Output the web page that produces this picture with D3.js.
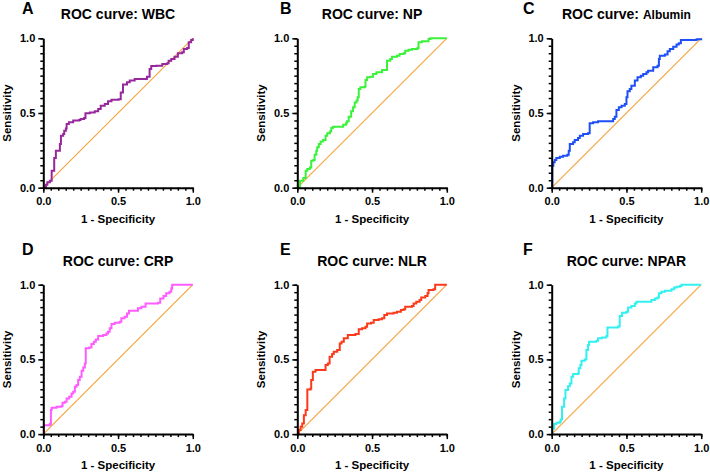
<!DOCTYPE html>
<html>
<head>
<meta charset="utf-8">
<script src="https://cdn.jsdelivr.net/npm/d3@7"></script>
<style>
  body { margin: 0; background: #fff; }
  text { font-family: "Liberation Sans", Arial, sans-serif; font-weight: bold; fill: #000; }
</style>
</head>
<body>
<svg id="chart" width="710" height="476"></svg>
<script>
// tick labels shared by every panel
const tickValues = [0, 0.5, 1];
const tickLabels = ["0.0", "0.5", "1.0"];

// ROC points: 1 - specificity (fpr) and sensitivity (tpr)
const wbcFpr = [0, 0.018, 0.027, 0.044, 0.056, 0.067, 0.073, 0.084, 0.1, 0.111, 0.118, 0.133, 0.14, 0.151, 0.156, 0.171, 0.2, 0.24, 0.249, 0.273, 0.282, 0.311, 0.344, 0.367, 0.384, 0.411, 0.433, 0.456, 0.504, 0.518, 0.533, 0.56, 0.578, 0.611, 0.678, 0.693, 0.711, 0.722, 0.756, 0.796, 0.829, 0.838, 0.856, 0.878, 0.9, 0.929, 0.94, 0.962, 0.973, 0.989, 1];
const wbcTpr = [0, 0.02, 0.036, 0.047, 0.114, 0.114, 0.199, 0.248, 0.248, 0.292, 0.348, 0.359, 0.382, 0.397, 0.426, 0.438, 0.449, 0.453, 0.46, 0.467, 0.498, 0.504, 0.511, 0.527, 0.549, 0.56, 0.578, 0.589, 0.592, 0.638, 0.69, 0.705, 0.717, 0.728, 0.728, 0.743, 0.795, 0.815, 0.817, 0.828, 0.833, 0.85, 0.862, 0.877, 0.9, 0.906, 0.929, 0.935, 0.973, 0.989, 1];

const npFpr = [0, 0.018, 0.033, 0.04, 0.056, 0.067, 0.084, 0.093, 0.107, 0.116, 0.127, 0.133, 0.144, 0.156, 0.173, 0.189, 0.2, 0.218, 0.227, 0.238, 0.278, 0.307, 0.327, 0.333, 0.344, 0.36, 0.373, 0.384, 0.396, 0.404, 0.411, 0.422, 0.449, 0.456, 0.467, 0.489, 0.507, 0.529, 0.567, 0.596, 0.6, 0.622, 0.633, 0.667, 0.684, 0.711, 0.722, 0.744, 0.767, 0.804, 0.811, 0.833, 0.878, 0.889, 1];
const npTpr = [0, 0.047, 0.047, 0.065, 0.114, 0.125, 0.136, 0.181, 0.185, 0.221, 0.248, 0.27, 0.292, 0.31, 0.319, 0.348, 0.364, 0.377, 0.4, 0.408, 0.408, 0.422, 0.435, 0.444, 0.475, 0.511, 0.538, 0.571, 0.583, 0.605, 0.661, 0.672, 0.676, 0.721, 0.739, 0.743, 0.761, 0.772, 0.788, 0.788, 0.85, 0.862, 0.877, 0.884, 0.895, 0.9, 0.917, 0.924, 0.929, 0.935, 0.973, 0.98, 0.996, 1, 1];

const albFpr = [0, 0.004, 0.011, 0.02, 0.031, 0.054, 0.076, 0.105, 0.114, 0.121, 0.143, 0.154, 0.176, 0.188, 0.21, 0.243, 0.254, 0.277, 0.31, 0.388, 0.411, 0.422, 0.433, 0.449, 0.467, 0.489, 0.5, 0.507, 0.522, 0.533, 0.556, 0.574, 0.596, 0.612, 0.634, 0.645, 0.679, 0.708, 0.717, 0.723, 0.757, 0.775, 0.79, 0.813, 0.835, 0.85, 0.864, 0.969, 1];
const albTpr = [0, 0.147, 0.17, 0.185, 0.199, 0.208, 0.214, 0.221, 0.248, 0.292, 0.304, 0.319, 0.333, 0.348, 0.359, 0.364, 0.431, 0.438, 0.444, 0.444, 0.46, 0.475, 0.52, 0.538, 0.549, 0.56, 0.605, 0.645, 0.661, 0.683, 0.717, 0.739, 0.75, 0.761, 0.772, 0.783, 0.806, 0.817, 0.862, 0.884, 0.891, 0.913, 0.929, 0.944, 0.958, 0.967, 0.989, 0.993, 1];

const crpFpr = [0, 0.004, 0.044, 0.051, 0.056, 0.089, 0.122, 0.129, 0.144, 0.156, 0.173, 0.189, 0.2, 0.211, 0.222, 0.233, 0.244, 0.256, 0.267, 0.278, 0.284, 0.307, 0.322, 0.338, 0.351, 0.367, 0.4, 0.422, 0.433, 0.444, 0.456, 0.478, 0.511, 0.522, 0.544, 0.56, 0.573, 0.611, 0.633, 0.656, 0.684, 0.767, 0.782, 0.804, 0.822, 0.844, 0.856, 0.862, 1];
const crpTpr = [0, 0.06, 0.067, 0.161, 0.176, 0.183, 0.188, 0.21, 0.217, 0.239, 0.25, 0.272, 0.283, 0.317, 0.328, 0.362, 0.384, 0.424, 0.446, 0.473, 0.574, 0.58, 0.603, 0.618, 0.634, 0.656, 0.663, 0.674, 0.685, 0.708, 0.737, 0.746, 0.752, 0.775, 0.786, 0.808, 0.826, 0.826, 0.842, 0.853, 0.875, 0.879, 0.908, 0.924, 0.942, 0.953, 0.975, 1, 1];

const nlrFpr = [0, 0.011, 0.022, 0.033, 0.044, 0.056, 0.067, 0.089, 0.093, 0.104, 0.122, 0.182, 0.189, 0.204, 0.216, 0.233, 0.244, 0.267, 0.284, 0.296, 0.311, 0.338, 0.389, 0.411, 0.433, 0.456, 0.467, 0.493, 0.511, 0.544, 0.567, 0.582, 0.6, 0.644, 0.667, 0.693, 0.711, 0.722, 0.767, 0.778, 0.796, 0.818, 0.829, 0.856, 0.871, 0.878, 0.911, 0.922, 1];
const nlrTpr = [0, 0.027, 0.049, 0.071, 0.127, 0.161, 0.299, 0.306, 0.362, 0.417, 0.429, 0.429, 0.462, 0.473, 0.518, 0.536, 0.551, 0.563, 0.607, 0.618, 0.641, 0.663, 0.67, 0.701, 0.708, 0.719, 0.741, 0.746, 0.763, 0.768, 0.775, 0.797, 0.808, 0.813, 0.819, 0.83, 0.835, 0.853, 0.857, 0.875, 0.886, 0.897, 0.915, 0.924, 0.942, 0.964, 0.969, 1, 1];

const nparFpr = [0, 0.004, 0.016, 0.031, 0.054, 0.06, 0.069, 0.083, 0.092, 0.109, 0.121, 0.132, 0.143, 0.176, 0.181, 0.192, 0.199, 0.221, 0.232, 0.243, 0.25, 0.299, 0.31, 0.337, 0.366, 0.373, 0.444, 0.455, 0.471, 0.5, 0.511, 0.533, 0.556, 0.567, 0.645, 0.667, 0.69, 0.708, 0.717, 0.734, 0.757, 0.801, 0.819, 0.835, 0.857, 0.868, 1];
const nparTpr = [0, 0.038, 0.067, 0.076, 0.083, 0.098, 0.183, 0.239, 0.295, 0.321, 0.339, 0.384, 0.402, 0.406, 0.44, 0.462, 0.491, 0.5, 0.563, 0.596, 0.618, 0.625, 0.641, 0.647, 0.656, 0.714, 0.721, 0.79, 0.813, 0.819, 0.848, 0.857, 0.875, 0.886, 0.886, 0.897, 0.908, 0.915, 0.942, 0.953, 0.96, 0.969, 0.982, 0.987, 0.991, 1, 1];

const panelLetters = ["A", "B", "C", "D", "E", "F"];
const markerNames = ["WBC", "NP", "Albumin", "CRP", "NLR", "NPAR"];
const curveColors = ["#97289b", "#3bf23b", "#1e4ef5", "#ff5cff", "#fb3a1c", "#33f0f0"];

const fprSets = [wbcFpr, npFpr, albFpr, crpFpr, nlrFpr, nparFpr];
const tprSets = [wbcTpr, npTpr, albTpr, crpTpr, nlrTpr, nparTpr];

// layout
const colX = [43.3, 297.3, 551.7];
const rowY = [38.3, 284.7];
const plotW = 149.5;
const plotH = 149.4;
const letterX = [22, 280, 523];
const letterY = [14, 254.7];
const titleY = [19, 266];

const svg = d3.select("#chart");

const panels = markerNames.map((name, i) => ({
  name,
  letter: panelLetters[i],
  color: curveColors[i],
  col: i % 3,
  row: Math.floor(i / 3),
  points: fprSets[i].map((f, j) => ({ fpr: f, tpr: tprSets[i][j] })),
}));

panels.forEach((p) => {
  const ox = colX[p.col];
  const oy = rowY[p.row];
  const x = d3.scaleLinear().domain([0, 1]).range([0, plotW]);
  const y = d3.scaleLinear().domain([0, 1]).range([plotH, 0]);

  // panel letter
  svg.append("text")
    .attr("x", letterX[p.col])
    .attr("y", letterY[p.row])
    .attr("font-size", 16)
    .text(p.letter);

  // title: GraphPad rendered the Albumin name slightly smaller
  const title = svg.append("text")
    .attr("x", ox + plotW / 2)
    .attr("y", titleY[p.row])
    .attr("text-anchor", "middle")
    .attr("font-size", 14);
  title.append("tspan").text("ROC curve: ");
  title.append("tspan")
    .attr("font-size", p.name === "Albumin" ? 12 : 14)
    .text(p.name);

  const g = svg.append("g").attr("transform", `translate(${ox},${oy})`);

  // reference diagonal
  g.append("line")
    .attr("x1", x(0)).attr("y1", y(0))
    .attr("x2", x(1)).attr("y2", y(1))
    .attr("stroke", "#f5a742")
    .attr("stroke-width", 1.2);

  // ROC curve
  const line = d3.line()
    .x((d) => x(d.fpr))
    .y((d) => y(d.tpr))
    .curve(d3.curveStepAfter);

  g.append("path")
    .datum(p.points)
    .attr("fill", "none")
    .attr("stroke", p.color)
    .attr("stroke-width", 2)
    .attr("d", line);

  // minor ticks every 0.05
  const minor = d3.range(0, 21).map((k) => k / 20);
  g.append("g")
    .attr("transform", `translate(0,${plotH})`)
    .call(d3.axisBottom(x).tickValues(minor).tickSize(3).tickFormat(""))
    .call((a) => a.select(".domain").remove())
    .call((a) => a.selectAll("line").attr("stroke-width", 1.5));
  g.append("g")
    .call(d3.axisLeft(y).tickValues(minor).tickSize(3).tickFormat(""))
    .call((a) => a.select(".domain").remove())
    .call((a) => a.selectAll("line").attr("stroke-width", 1.5));

  // major axes
  const xAxis = g.append("g")
    .attr("transform", `translate(0,${plotH})`)
    .call(d3.axisBottom(x).tickValues(tickValues).tickSize(5).tickSizeOuter(0)
      .tickFormat((d, i) => tickLabels[i]).tickPadding(5));
  const yAxis = g.append("g")
    .call(d3.axisLeft(y).tickValues(tickValues).tickSize(5).tickSizeOuter(0)
      .tickFormat((d, i) => tickLabels[i]).tickPadding(3));

  [xAxis, yAxis].forEach((a) => {
    a.select(".domain").attr("stroke-width", 2);
    a.selectAll("line").attr("stroke-width", 1.5);
    a.selectAll("text")
      .attr("font-size", 11)
      .attr("font-family", "Liberation Sans, Arial, sans-serif")
      .attr("font-weight", "bold")
      .attr("fill", "#000");
  });

  // axis titles
  g.append("text")
    .attr("x", plotW / 2)
    .attr("y", plotH + 35)
    .attr("text-anchor", "middle")
    .attr("font-size", 11.5)
    .text("1 - Specificity");
  g.append("text")
    .attr("transform", `translate(-36,${plotH / 2}) rotate(-90)`)
    .attr("text-anchor", "middle")
    .attr("dy", "0.35em")
    .attr("font-size", 11.5)
    .text("Sensitivity");
});
</script>
</body>
</html>
